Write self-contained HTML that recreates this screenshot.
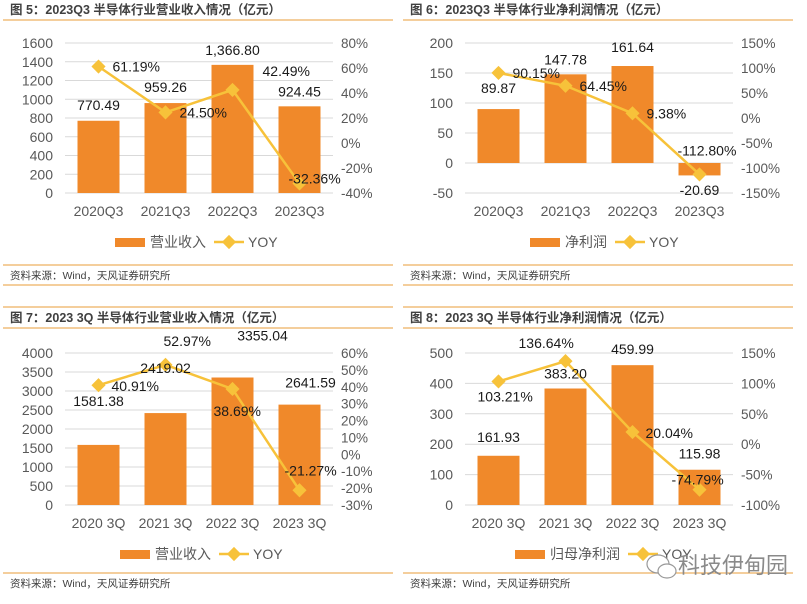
<!DOCTYPE html>
<html><head><meta charset="utf-8"><style>
body{margin:0;background:#fff;width:807px;height:599px;overflow:hidden;font-family:"Liberation Sans","Noto Sans CJK SC",sans-serif}
svg text{font-family:"Liberation Sans","Noto Sans CJK SC",sans-serif}
</style></head><body>
<svg id="s" width="807" height="599"></svg>
<script>
// ---- data ----
const cats1 = ["2020Q3","2021Q3","2022Q3","2023Q3"];
const rev1 = [770.49,959.26,1366.80,924.45];
const revLabels1 = ["770.49","959.26","1,366.80","924.45"];
const yoy1 = [61.19,24.50,42.49,-32.36];
const leftTicks1 = [0,200,400,600,800,1000,1200,1400,1600];
const rightTicks1 = [-40,-20,0,20,40,60,80];

const cats2 = ["2020Q3","2021Q3","2022Q3","2023Q3"];
const np2 = [89.87,147.78,161.64,-20.69];
const npLabels2 = ["89.87","147.78","161.64","-20.69"];
const yoy2 = [90.15,64.45,9.38,-112.80];
const leftTicks2 = [-50,0,50,100,150,200];
const rightTicks2 = [-150,-100,-50,0,50,100,150];

const cats3 = ["2020 3Q","2021 3Q","2022 3Q","2023 3Q"];
const rev3 = [1581.38,2419.02,3355.04,2641.59];
const revLabels3 = ["1581.38","2419.02","3355.04","2641.59"];
const yoy3 = [40.91,52.97,38.69,-21.27];
const leftTicks3 = [0,500,1000,1500,2000,2500,3000,3500,4000];
const rightTicks3 = [-30,-20,-10,0,10,20,30,40,50,60];

const cats4 = ["2020 3Q","2021 3Q","2022 3Q","2023 3Q"];
const np4 = [161.93,383.20,459.99,115.98];
const npLabels4 = ["161.93","383.20","459.99","115.98"];
const yoy4 = [103.21,136.64,20.04,-74.79];
const leftTicks4 = [0,100,200,300,400,500];
const rightTicks4 = [-100,-50,0,50,100,150];

// ---- drawing ----
const NS="http://www.w3.org/2000/svg";
const svg=document.getElementById('s');
function mk(tag,attrs,parent,txt){const e=document.createElementNS(NS,tag);for(const k in attrs)e.setAttribute(k,attrs[k]);if(txt!==undefined)e.textContent=txt;(parent||svg).appendChild(e);return e;}
const ORANGE="#F0892A", GOLD="#F7C23A", LINE="#EDB062";

function panel(o){
  const g=mk('g',{});
  
  
  if(o.topLine){mk('line',{x1:o.x0+3,x2:o.x0+393,y1:o.top-11,y2:o.top-11,stroke:LINE,'stroke-width':1.2},g);}
  const t=mk('text',{x:o.x0+10,y:o.top+4,'font-size':12.5,'font-weight':'bold',fill:'#404040'},g,o.title);
  
  
  mk('line',{x1:o.x0+3,x2:o.x0+393,y1:o.top+10,y2:o.top+10,stroke:LINE,'stroke-width':1.2},g);
  const L=o.plotL,R=o.plotL+268,yT=o.yT,yB=o.yB;
  const yL=v=>yB-(v-o.lmin)/(o.lmax-o.lmin)*(yB-yT);
  const yR=v=>yB-(v-o.rmin)/(o.rmax-o.rmin)*(yB-yT);
  const xC=i=>L+33.5+i*67;
  o.lt.forEach(v=>{
    mk('line',{x1:L,x2:R,y1:yL(v),y2:yL(v),stroke:'#d9d9d9','stroke-width':1},g);
    const tx=mk('text',{x:L-12,y:yL(v)+5,'font-size':14,fill:'#595959','text-anchor':'end'},g,v);
    
    
  });
  o.rt.forEach(v=>{
    const tx=mk('text',{x:R+8,y:yR(v)+5,'font-size':13.5,fill:'#595959'},g,v+'%');
    
    
  });
  o.bars.forEach((v,i)=>{
    const y0=yL(0),y1=yL(v);
    const b=mk('rect',{x:xC(i)-21,y:Math.min(y0,y1),width:42,height:Math.abs(y0-y1),fill:ORANGE},g);
    
    
  });
  o.cats.forEach((c,i)=>{
    const tx=mk('text',{x:xC(i),y:yB+23,'font-size':14,fill:'#595959','text-anchor':'middle'},g,c);
    
    
  });
  mk('polyline',{points:o.yoy.map((v,i)=>xC(i)+','+yR(v)).join(' '),fill:'none',stroke:GOLD,'stroke-width':2.5},g);
  o.yoy.forEach((v,i)=>{
    const x=xC(i),y=yR(v);
    const d=mk('rect',{x:x-5,y:y-5,width:10,height:10,fill:GOLD,transform:`rotate(45 ${x} ${y})`},g);
    
    
  });
  o.bars.forEach((v,i)=>{
    const off=o.barOff[i];
    const tx=mk('text',{x:xC(i)+off[0],y:yL(Math.max(v,0))+off[1],'font-size':14,fill:'#1a1a1a','text-anchor':'middle'},g,o.barLab[i]);
    
    
  });
  o.yoy.forEach((v,i)=>{
    const off=o.yoyOff[i];
    const tx=mk('text',{x:xC(i)+off[0],y:yR(v)+off[1],'font-size':14,fill:'#1a1a1a'},g,v.toFixed(2)+'%');
    
    
  });
  const lx=o.legX, ly=yB+49;
  const lr=mk('rect',{x:lx,y:ly-4,width:30,height:9,fill:ORANGE},g);
  
  
  const lt=mk('text',{x:lx+35,y:ly+5,'font-size':14,fill:'#595959'},g,o.legName);
  
  
  const lx2=lx+35+o.legName.length*14+8;
  mk('line',{x1:lx2,x2:lx2+30,y1:ly,y2:ly,stroke:GOLD,'stroke-width':2.5},g);
  mk('rect',{x:lx2+10,y:ly-5,width:10,height:10,fill:GOLD,transform:`rotate(45 ${lx2+15} ${ly})`},g);
  const ly2=mk('text',{x:lx2+34,y:ly+5,'font-size':14,fill:'#595959'},g,'YOY');
  
  
  mk('line',{x1:o.x0+3,x2:o.x0+393,y1:o.srcY-10,y2:o.srcY-10,stroke:LINE,'stroke-width':1.2},g);
  const st=mk('text',{x:o.x0+10,y:o.srcY+4,'font-size':10.5,fill:'#404040'},g,'资料来源：Wind，天风证券研究所');
  
  
  if(o.botLine)mk('line',{x1:o.x0+3,x2:o.x0+393,y1:o.srcY+10,y2:o.srcY+10,stroke:LINE,'stroke-width':1.2},g);
}

panel({name:'chart-revenue-q3',x0:0,top:10,title:'图 5：2023Q3 半导体行业营业收入情况（亿元）',plotL:65,yT:43,yB:193,
  lmin:0,lmax:1600,rmin:-40,rmax:80,lt:leftTicks1,rt:rightTicks1,cats:cats1,bars:rev1,barLab:revLabels1,yoy:yoy1,
  barOff:[[0,-11],[0,-11],[0,-10],[0,-10]],yoyOff:[[14,5],[14,5],[30,-14],[-11,0]],legX:115,legName:'营业收入',srcY:275,botLine:true});
panel({name:'chart-netprofit-q3',x0:400,top:10,title:'图 6：2023Q3 半导体行业净利润情况（亿元）',plotL:465,yT:43,yB:193,
  lmin:-50,lmax:200,rmin:-150,rmax:150,lt:leftTicks2,rt:rightTicks2,cats:cats2,bars:np2,barLab:npLabels2,yoy:yoy2,
  barOff:[[0,-16],[0,-10],[0,-14],[0,32]],yoyOff:[[14,5],[14,5],[14,5],[-22,-19]],legX:530,legName:'净利润',srcY:275,botLine:true});
panel({name:'chart-revenue-3q',x0:0,top:318,topLine:true,title:'图 7：2023 3Q 半导体行业营业收入情况（亿元）',plotL:65,yT:353,yB:505,
  lmin:0,lmax:4000,rmin:-30,rmax:60,lt:leftTicks3,rt:rightTicks3,cats:cats3,bars:rev3,barLab:revLabels3,yoy:yoy3,
  barOff:[[0,-39],[0,-40],[30,-37],[11,-17]],yoyOff:[[13,6],[-2,-19],[-19,27],[-15,-15]],legX:120,legName:'营业收入',srcY:583});
panel({name:'chart-netprofit-3q',x0:400,top:318,topLine:true,title:'图 8：2023 3Q 半导体行业净利润情况（亿元）',plotL:465,yT:353,yB:505,
  lmin:0,lmax:500,rmin:-100,rmax:150,lt:leftTicks4,rt:rightTicks4,cats:cats4,bars:np4,barLab:npLabels4,yoy:yoy4,
  barOff:[[0,-14],[0,-10],[0,-11],[0,-11]],yoyOff:[[-21,20],[-47,-13],[13,6],[-28,-5]],legX:515,legName:'归母净利润',srcY:583});

const wm=mk('text',{x:678,y:573,'font-size':22,fill:'#8a8a8a'},svg,'科技伊甸园');


mk('ellipse',{cx:658,cy:564,rx:11,ry:9,fill:'none',stroke:'#999','stroke-width':1.2});
mk('ellipse',{cx:667,cy:571,rx:9,ry:7,fill:'#fff',stroke:'#999','stroke-width':1.2});
</script>
</body></html>
